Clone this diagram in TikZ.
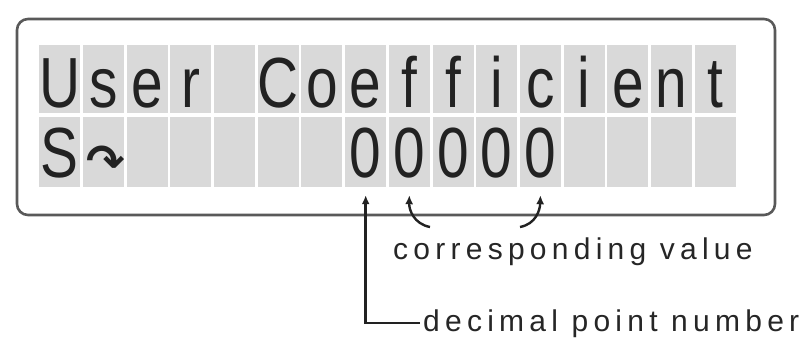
\documentclass[tikz,border=0pt]{standalone}
\usepackage{fontspec}
\setmainfont{Liberation Sans}
\newfontfamily\spacedfont[LetterSpace=17.5]{Liberation Sans}
\newfontfamily\arrowfont{DejaVu Sans}
\usepackage{xcolor}
\usepackage{tikz}
\usetikzlibrary{arrows.meta,positioning,calc}
\definecolor{lcdgrey}{HTML}{D9D9D9}
\definecolor{ink}{HTML}{222222}
\newcommand{\lcd}[1]{\scalebox{0.8}[1]{#1}}

\begin{document}
\begin{tikzpicture}[
    x=1pt, y=-1pt,
    lcdframe/.style={draw=black!65, line width=2.6pt, rounded corners=11pt,
                     minimum width=758pt, minimum height=196pt, inner sep=0pt},
    cell/.style={fill=lcdgrey, minimum width=41pt, inner sep=0pt},
    glyph/.style={anchor=base, inner sep=0pt, text=ink, font=\fontsize{71}{71}\selectfont},
    lbl/.style={inner sep=3pt, text=black!85, font=\spacedfont\fontsize{30}{30}\selectfont},
    line/.style={-{Latex[length=9pt,width=8pt]}, line width=2.4pt, draw=ink}
]
\useasboundingbox (0,0) rectangle (808,339);
\node[lcdframe] (lcd) at (396,117) {};
\foreach \c in {0,...,15} {
  \node[cell, minimum height=68pt] (c-1-\c) at ({38+43.69*(\c+0.5)},79) {};
  \node[cell, minimum height=70pt] (c-2-\c) at ({38+43.69*(\c+0.5)},152) {};
}
\foreach \ch [count=\c from 0] in {U,s,e,r,{},C,o,e,f,f,i,c,i,e,n,t}
  \node[glyph] (g-1-\c) at ([yshift=6pt]c-1-\c.south) {\lcd{\ch}};
\node[glyph] (g-2-0) at ([yshift=10pt]c-2-0.south) {\lcd{S}};
\node[glyph, anchor=center, font=\arrowfont\bfseries\fontsize{46}{46}\selectfont]
     (g-2-1) at ([xshift=2pt,yshift=-10pt]c-2-1.center) {↷};
\foreach \c in {7,...,11}
  \node[glyph] (g-2-\c) at ([yshift=10pt]c-2-\c.south) {\lcd{0}};

\node[lbl, anchor=base west] (val) at (390,259) {corresponding value};
\node[lbl, anchor=base west] (dec) at (420,331) {decimal point number};
\coordinate (vl) at (430,227);
\coordinate (vr) at (520,227);

\draw[line] (vl) .. controls (414,224) and (409,210) .. ([yshift=-8pt]c-2-8.south);
\draw[line] (vr) .. controls (536,224) and (540,210) .. ([yshift=-8pt]c-2-11.south);
\draw[line] (dec.west) -| ([yshift=-8pt]c-2-7.south);
\end{tikzpicture}
\end{document}
